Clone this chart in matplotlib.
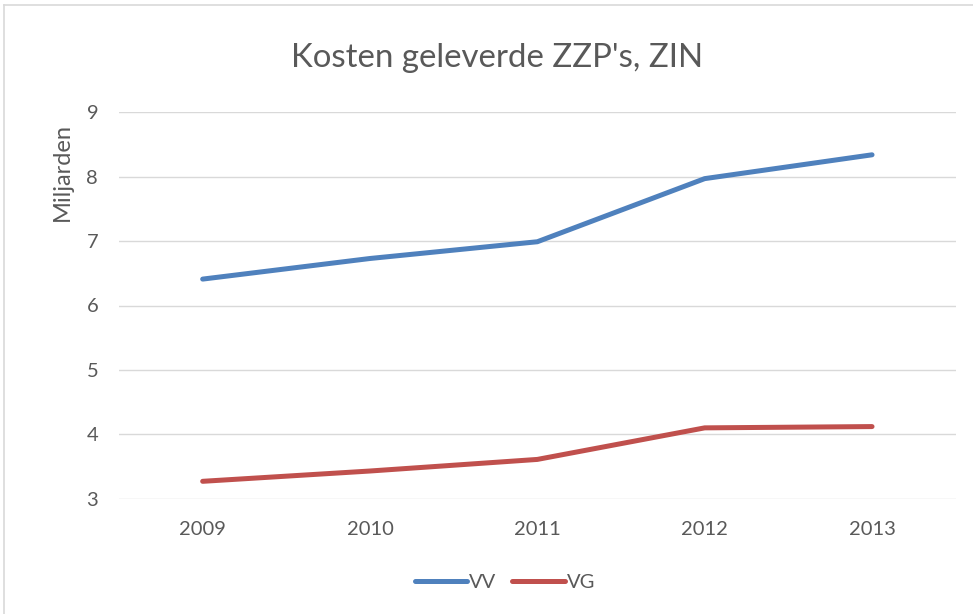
"""Kosten geleverde ZZP's (ZIN), lijngrafiek in Excel-stijl."""

import matplotlib
matplotlib.use("Agg")
import matplotlib.pyplot as plt
from matplotlib.lines import Line2D

jaren = ["2009", "2010", "2011", "2012", "2013"]
vv = [6.41, 6.73, 6.99, 7.97, 8.34]
vg = [3.27, 3.43, 3.61, 4.10, 4.12]
y_ticks = [3, 4, 5, 6, 7, 8, 9]

TEKST = "#595959"
GRID = "#D9D9D9"
BLAUW = "#4F81BD"
ROOD = "#C0504D"

plt.rcParams["font.family"] = ["Lato", "DejaVu Sans"]

W, H = 973, 614
fig = plt.figure(figsize=(W / 100, H / 100), dpi=100)
ax = fig.add_axes([119 / W, (H - 498.7) / H, (955.7 - 119) / W, (498.7 - 112.3) / H])

x = range(len(jaren))
ax.plot(x, vv, color=BLAUW, linewidth=3.6, solid_joinstyle="round", solid_capstyle="round", label="VV")
ax.plot(x, vg, color=ROOD, linewidth=3.6, solid_joinstyle="round", solid_capstyle="round", label="VG")

ax.set_xlim(-0.5, len(jaren) - 0.5)
ax.set_ylim(3, 9)
ax.set_yticks(y_ticks)
ax.set_xticks(list(x))
ax.set_xticklabels(jaren)
ax.grid(axis="y", color=GRID, linewidth=1.0)
ax.set_axisbelow(True)
for s in ax.spines.values():
    s.set_visible(False)
ax.tick_params(length=0, labelsize=14.5, labelcolor=TEKST)
ax.tick_params(axis="y", pad=15)
ax.tick_params(axis="x", pad=16)

# titel en as-titel
fig.text(497 / W, 1 - 58 / H, "Kosten geleverde ZZP's, ZIN", ha="center", va="center",
         fontsize=23.8, color=TEKST)
fig.text(62 / W, 1 - 172 / H, "Miljarden", rotation=90, ha="center", va="center",
         fontsize=17, color=TEKST)

fig.legend(loc="center", bbox_to_anchor=(505 / W, 1 - 582.7 / H), ncol=2, frameon=False,
           fontsize=14.5, labelcolor=TEKST, handlelength=2.6, handletextpad=0.1, columnspacing=0.8)

# rand van de grafiek (alleen boven en links zichtbaar)
fig.add_artist(Line2D([4 / W, 4 / W], [0, 1 - 4.5 / H], color=GRID, linewidth=1.2))
fig.add_artist(Line2D([4 / W, 1], [1 - 4.5 / H, 1 - 4.5 / H], color=GRID, linewidth=1.2))

fig.savefig("out.png", dpi=100, facecolor="white")
